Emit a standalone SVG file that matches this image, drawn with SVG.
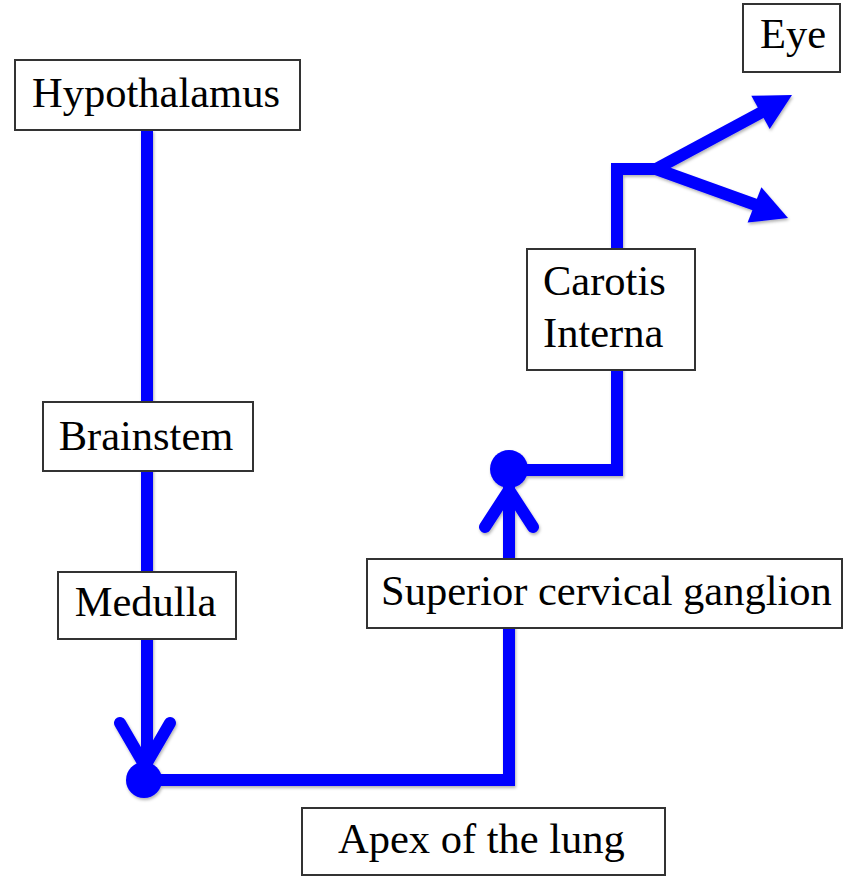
<svg xmlns="http://www.w3.org/2000/svg" width="843" height="876" viewBox="0 0 843 876">
<defs>
<filter id="sh" x="-20%" y="-20%" width="140%" height="140%">
<feDropShadow dx="1" dy="2" stdDeviation="1.5" flood-color="#000" flood-opacity="0.3"/>
</filter>
</defs>
<style>
.box{fill:#fff;stroke:#333;stroke-width:2}
.lbl{font-family:"Liberation Serif","Times New Roman",serif;font-size:42.5px;fill:#000}
.ln{fill:none;stroke:#0000ff;stroke-width:12}
.arm{fill:none;stroke:#0000ff;stroke-width:12;stroke-linecap:round}
.dot{fill:#0000ff}
.head{fill:#0000ff}
</style>
<rect width="843" height="876" fill="#fff"/>
<g id="connectors" filter="url(#sh)">
<path class="ln" d="M147,130 V780"/>
<path class="arm" d="M120,723 L145,766 L170,723"/>
<circle class="dot" cx="144" cy="780" r="18"/>
<path class="ln" d="M144,780 H509 V470" stroke-linejoin="miter"/>
<path class="arm" d="M485,527 L509,490 L533,527"/>
<circle class="dot" cx="509" cy="469" r="19"/>
<path class="ln" d="M509,470 H617 V169 H662" stroke-linejoin="miter"/>
<path class="ln" d="M656,169 L762,112"/>
<path class="ln" d="M656,169 L756,205"/>
<polygon class="head" points="792,95 769.7,129 751.3,95.8"/>
<polygon class="head" points="788,218 747.6,222.6 761.4,187.2"/>
</g>
<g id="hypothalamus">
<rect class="box" x="15" y="60" width="285" height="70"/>
<text class="lbl" x="156" y="107" text-anchor="middle">Hypothalamus</text>
</g>
<g id="brainstem">
<rect class="box" x="43" y="402" width="210" height="69"/>
<text class="lbl" x="146" y="450" text-anchor="middle">Brainstem</text>
</g>
<g id="medulla">
<rect class="box" x="58" y="572" width="178" height="67"/>
<text class="lbl" x="145.5" y="616" text-anchor="middle">Medulla</text>
</g>
<g id="apex">
<rect class="box" x="302" y="808" width="363" height="67"/>
<text class="lbl" x="338" y="853">Apex of the lung</text>
</g>
<g id="superior-cervical-ganglion">
<rect class="box" x="367" y="559" width="475" height="69"/>
<text class="lbl" x="381" y="605">Superior cervical ganglion</text>
</g>
<g id="carotis-interna">
<rect class="box" x="527" y="249" width="168" height="121"/>
<text class="lbl" x="543" y="295">Carotis</text>
<text class="lbl" x="543" y="347">Interna</text>
</g>
<g id="eye">
<rect class="box" x="743" y="4" width="97" height="68"/>
<text class="lbl" x="760" y="48">Eye</text>
</g>
</svg>
